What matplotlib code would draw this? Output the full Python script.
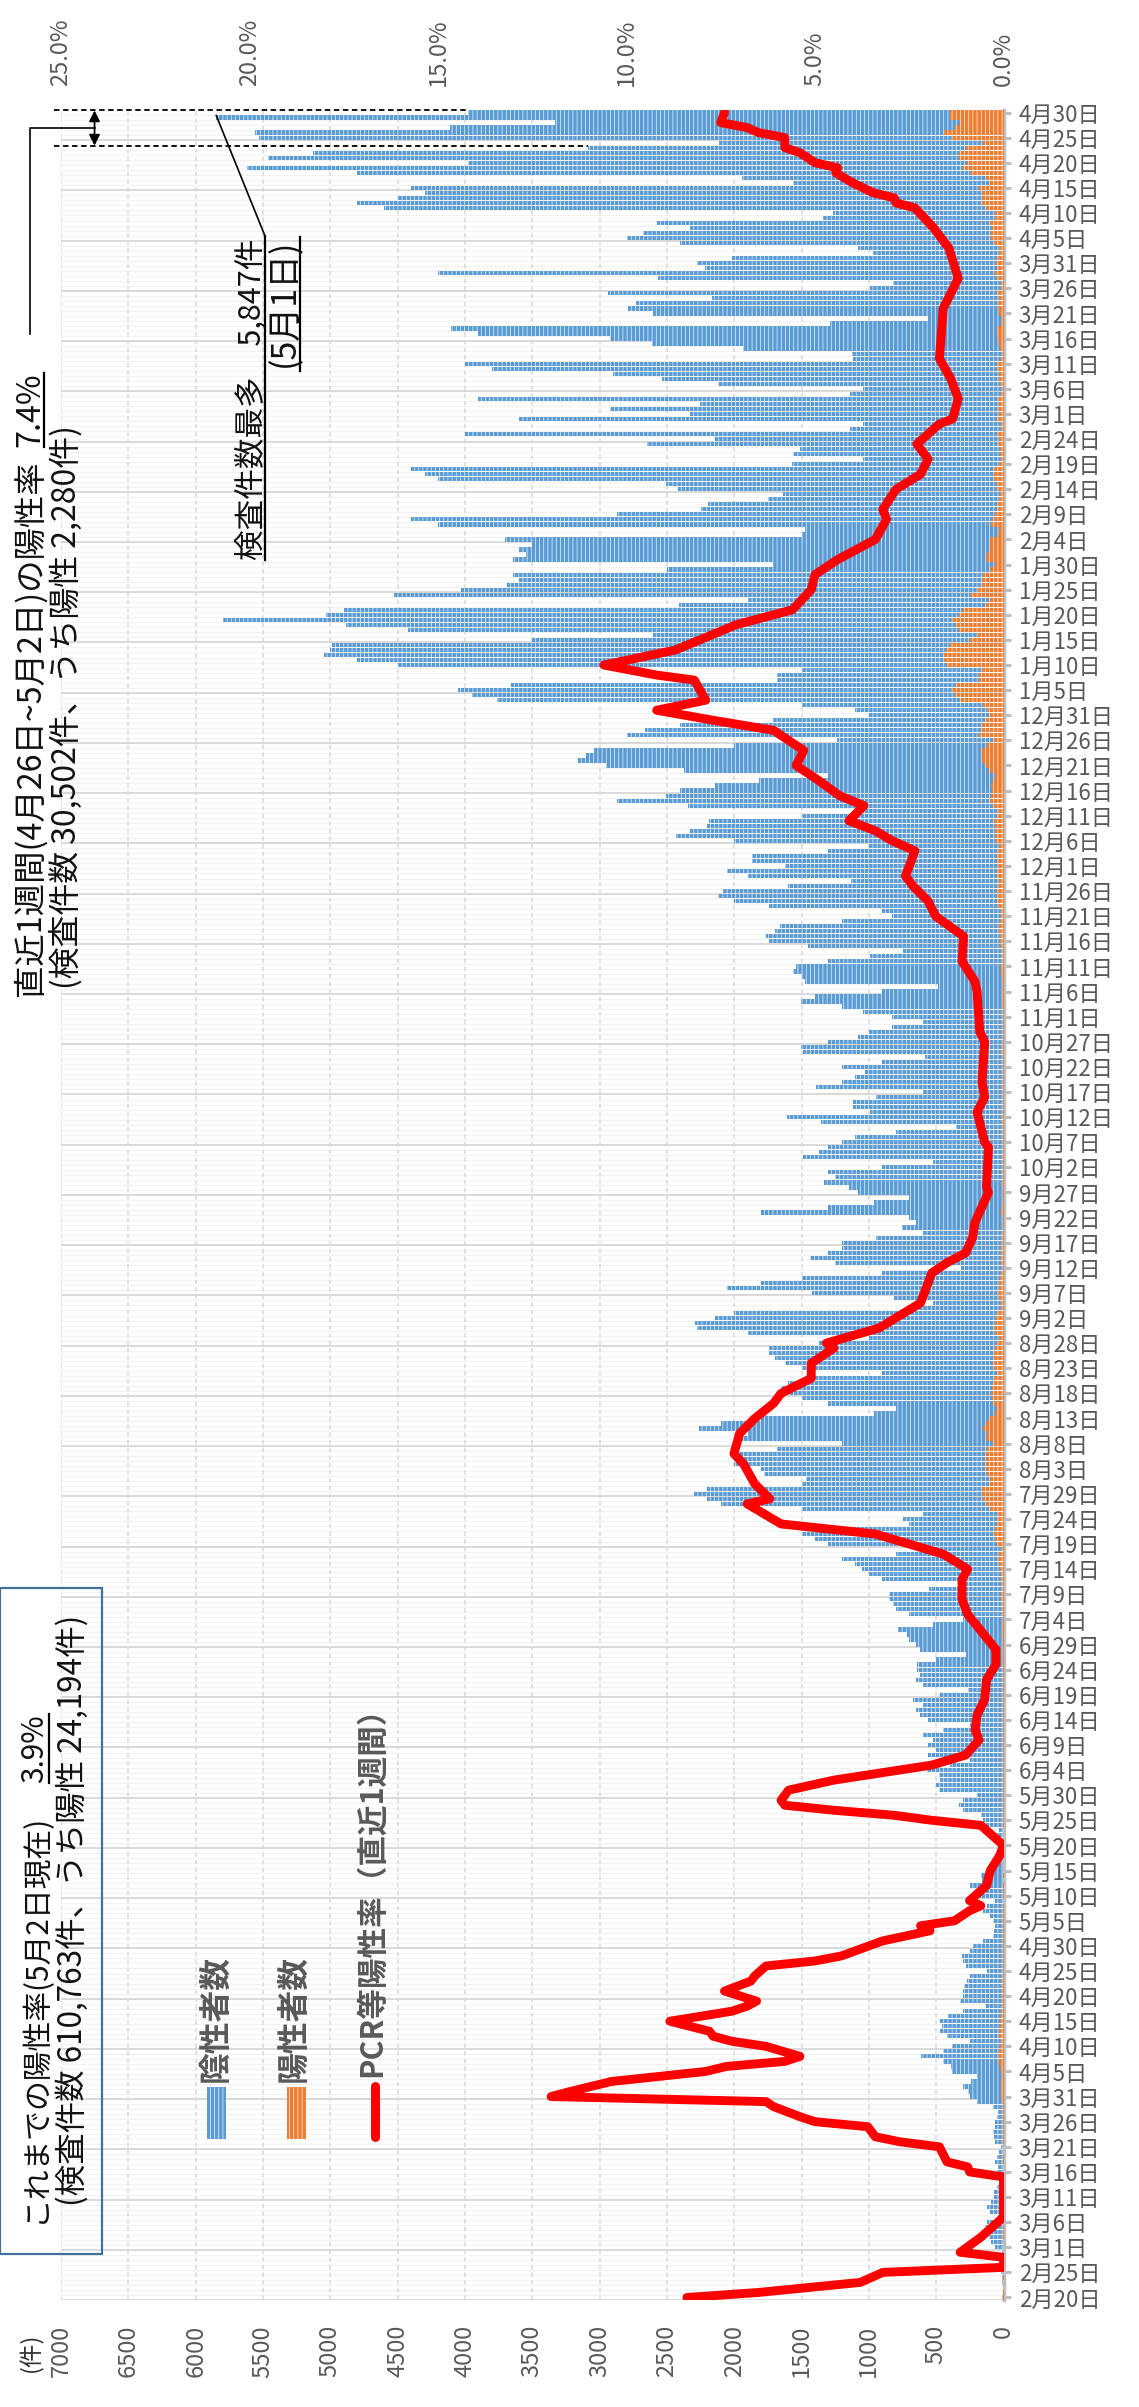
import numpy as np
import pandas as pd
import matplotlib
matplotlib.use("Agg")
import matplotlib.pyplot as plt
from matplotlib.patches import Rectangle
from matplotlib.lines import Line2D

plt.rcParams['font.family'] = ['Noto Sans CJK JP', 'DejaVu Sans']
plt.rcParams['hatch.linewidth'] = 0.45

# ---------------- data ----------------
start_date = "2020-02-20"
end_date = "2021-04-30"

# daily number of tests (blue bar length = negatives + positives), one row per week from 2020-02-20
tests_total = [
    8, 5, 3, 10, 12, 15, 20,
    25, 20, 10, 60, 90, 110, 150,
    140, 120, 40, 100, 120, 90, 70,
    70, 50, 20, 40, 50, 40, 60,
    50, 30, 20, 60, 70, 80, 60,
    60, 50, 40, 80, 200, 250, 260,
    300, 240, 200, 380, 390, 450, 610,
    450, 380, 250, 420, 470, 460, 470,
    410, 300, 130, 320, 300, 300, 290,
    270, 250, 120, 280, 300, 310, 250,
    230, 150, 80, 70, 60, 80, 100,
    150, 120, 60, 180, 200, 250, 160,
    170, 100, 40, 60, 50, 30, 40,
    40, 50, 30, 130, 150, 170, 300,
    330, 300, 200, 480, 500, 470, 480,
    570, 400, 250, 560, 500, 560, 520,
    600, 450, 250, 560, 620, 650, 600,
    670, 480, 260, 600, 650, 620, 640,
    640, 500, 280, 620, 650, 700, 720,
    780, 520, 300, 700, 800, 820, 850,
    850, 550, 320, 900, 1000, 1050, 1100,
    1200, 800, 500, 1300, 1400, 1500, 1350,
    700, 750, 600, 1500, 2100, 2200, 2300,
    2200, 1500, 1470, 1780, 1800, 2000, 2000,
    2000, 1680, 1200, 1950, 1900, 2260, 2100,
    1800, 960, 800, 1300, 1500, 1600, 1650,
    1600, 1400, 900, 1500, 1626, 1700, 1745,
    1745, 1370, 1000, 1900, 2275, 2291, 2140,
    2000, 700, 520, 810, 1420, 2050, 1800,
    1500, 900, 315, 1250, 1440, 1300, 1200,
    1200, 945, 600, 755, 650, 700, 1800,
    1300, 960, 700, 1080, 1150, 1335, 1250,
    1300, 900, 520, 1490, 1370, 1300, 1200,
    1100, 800, 350, 1355, 1610, 995, 1115,
    1115, 950, 600, 1390, 1200, 1100, 1030,
    1200, 900, 585, 1490, 1505, 1300, 1080,
    1000, 825, 600, 825, 1045, 1200, 1505,
    1400, 900, 485, 1475, 1500, 1560, 1540,
    1300, 995, 750, 1450, 1745, 1765, 1700,
    1660, 1200, 825, 900, 1745, 2000, 2120,
    2085, 1600, 1130, 1900, 2050, 1625, 1865,
    1865, 1300, 1000, 2000, 2430, 2325, 2200,
    2190, 1500, 1100, 2340, 2870, 2510, 2400,
    2140, 1815, 1300, 2375, 2955, 3160, 3100,
    3040, 2000, 1235, 2800, 2665, 2400, 1710,
    1000, 1100, 1500, 3760, 3945, 4050, 3655,
    1680, 1680, 1500, 4500, 4800, 5050, 5000,
    4985, 3500, 2600, 4420, 4880, 5800, 5035,
    4900, 2410, 1900, 4525, 4030, 3690, 3600,
    3640, 2500, 1710, 3640, 3550, 3600, 3500,
    3700, 1500, 1475, 4200, 4400, 2874, 2243,
    2193, 1748, 1636, 2416, 2503, 4200, 4300,
    4400, 1574, 1040, 1561, 1512, 2651, 2144,
    4000, 1140, 1040, 3600, 2330, 2924, 2255,
    3900, 1140, 1040, 2119, 2540, 2899, 3800,
    4000, 1115, 1127, 1933, 2614, 2924, 3900,
    4100, 1289, 558, 2602, 2788, 2726, 2168,
    2936, 992, 818, 2564, 4200, 2218, 2280,
    2019, 967, 1079, 2404, 2800, 2676, 2330,
    2577, 1339, 1265, 4600, 4800, 4500, 4300,
    4400, 1566, 1945, 4800, 5622, 3979, 5466,
    5131, 3085, 2114, 5532, 5562, 4113, 3328,
    5847, 3979,
]

# daily number of positives (orange)
positives = [
    1, 1, 0, 0, 1, 0, 0,
    0, 0, 0, 0, 0, 1, 1,
    1, 0, 0, 0, 0, 0, 0,
    0, 0, 0, 0, 0, 0, 1,
    1, 0, 0, 1, 2, 3, 2,
    3, 3, 2, 5, 10, 15, 18,
    20, 15, 12, 20, 25, 35, 40,
    35, 25, 15, 30, 30, 28, 25,
    20, 15, 8, 12, 10, 10, 8,
    8, 6, 3, 5, 5, 4, 3,
    3, 2, 1, 1, 1, 1, 1,
    1, 1, 0, 1, 1, 1, 0,
    1, 0, 0, 0, 0, 0, 0,
    0, 0, 0, 1, 2, 3, 5,
    6, 7, 5, 5, 6, 5, 4,
    6, 4, 2, 4, 3, 3, 2,
    3, 2, 1, 3, 3, 3, 3,
    4, 3, 1, 3, 3, 3, 4,
    4, 3, 2, 5, 6, 7, 8,
    10, 8, 5, 10, 12, 13, 15,
    16, 12, 8, 20, 22, 25, 30,
    40, 30, 20, 50, 60, 70, 60,
    50, 45, 40, 100, 130, 150, 160,
    160, 110, 100, 120, 130, 140, 130,
    140, 120, 80, 130, 120, 150, 130,
    110, 60, 50, 80, 85, 90, 85,
    80, 70, 45, 70, 75, 70, 70,
    60, 45, 30, 60, 70, 65, 55,
    50, 15, 15, 30, 40, 35, 30,
    25, 15, 5, 20, 20, 18, 15,
    12, 10, 8, 6, 5, 6, 15,
    10, 7, 5, 7, 7, 8, 7,
    8, 5, 3, 8, 7, 7, 6,
    6, 5, 2, 8, 9, 6, 6,
    6, 5, 3, 8, 7, 6, 6,
    7, 5, 3, 8, 8, 7, 6,
    6, 5, 4, 5, 6, 8, 10,
    10, 8, 5, 12, 14, 15, 15,
    12, 12, 10, 20, 25, 28, 30,
    30, 25, 18, 20, 40, 45, 50,
    50, 40, 30, 45, 50, 40, 45,
    50, 40, 30, 55, 65, 60, 60,
    70, 50, 40, 80, 100, 90, 85,
    90, 80, 60, 110, 140, 160, 160,
    170, 120, 80, 180, 170, 160, 140,
    110, 120, 150, 320, 360, 380, 350,
    180, 180, 160, 420, 440, 450, 430,
    400, 250, 200, 330, 350, 380, 330,
    300, 140, 110, 240, 200, 170, 160,
    150, 100, 60, 130, 120, 110, 100,
    100, 40, 35, 90, 80, 60, 50,
    45, 30, 25, 45, 50, 70, 70,
    70, 30, 20, 25, 25, 40, 35,
    50, 20, 15, 45, 35, 40, 30,
    40, 15, 12, 25, 30, 35, 45,
    45, 15, 12, 25, 35, 40, 45,
    50, 20, 10, 35, 40, 40, 35,
    45, 20, 15, 45, 60, 50, 55,
    50, 30, 30, 70, 90, 90, 85,
    100, 60, 60, 130, 160, 160, 160,
    180, 110, 130, 240, 300, 270, 330,
    330, 280, 150, 380, 440, 360, 320,
    400, 400,
]

# PCR positivity rate (last 7 days), read at these days since 2020-02-20
rate_day = [0, 1, 3, 5, 6, 8, 9, 12, 15, 16, 24, 25, 26, 27, 30, 31, 32, 34, 35, 36,
            38, 39, 40, 41, 43, 45, 46, 47, 48, 50, 51, 52, 53, 55, 57, 58, 59, 61, 63, 64,
            66, 67, 68, 71, 73, 74, 75, 77, 78, 79, 82, 85, 88, 90, 94, 95, 96, 97, 98, 99,
            101, 103, 106, 108, 111, 113, 116, 119, 123, 126, 129, 136, 139, 143, 145, 148, 152, 154, 158, 159,
            162, 166, 168, 172, 175, 178, 180, 183, 186, 189, 190, 193, 198, 204, 206, 208, 211, 214, 220, 221,
            229, 230, 236, 239, 242, 250, 252, 260, 262, 266, 271, 273, 275, 278, 281, 283, 288, 290, 292, 294,
            297, 299, 302, 305, 308, 312, 314, 316, 318, 322, 323, 325, 328, 333, 336, 340, 343, 346, 350, 354,
            356, 360, 363, 366, 369, 373, 374, 378, 382, 386, 391, 396, 402, 408, 412, 416, 417, 418, 419, 421,
            423, 424, 425, 427, 428, 430, 431, 432, 433, 435]
rate_pct = [8.4, 6.5, 3.8, 3.2, 0.0, 0.0, 1.15, 0.6, 0.15, 0.0, 0.0, 0.9, 0.95, 1.5, 1.7, 2.75, 3.4, 3.6, 5.0, 5.4,
            6.1, 6.3, 12.0, 11.5, 10.4, 7.9, 7.35, 5.8, 5.4, 6.3, 7.2, 7.7, 7.8, 8.85, 7.2, 6.8, 6.55, 7.4, 6.7, 6.6,
            6.3, 5.0, 4.3, 3.2, 1.95, 2.2, 1.3, 0.9, 0.6, 0.9, 0.45, 0.35, 0.1, 0.0, 0.6, 1.9, 2.9, 4.5, 5.8, 5.9,
            5.7, 4.5, 1.9, 1.0, 0.65, 0.75, 0.7, 0.5, 0.45, 0.2, 0.2, 0.95, 1.1, 1.1, 0.95, 1.6, 3.4, 5.9, 6.8, 6.2,
            6.6, 6.9, 7.15, 7.0, 6.6, 6.1, 5.9, 5.1, 5.1, 4.5, 4.7, 3.3, 2.2, 1.9, 1.5, 1.0, 0.82, 0.76, 0.4, 0.45,
            0.4, 0.5, 0.7, 0.5, 0.57, 0.5, 0.63, 0.7, 0.76, 1.1, 1.06, 1.43, 1.8, 2.0, 2.4, 2.6, 2.35, 2.95, 3.4, 4.1,
            3.7, 4.35, 4.9, 5.5, 5.3, 6.1, 7.7, 9.2, 7.9, 8.2, 9.2, 10.6, 8.7, 7.1, 5.6, 5.1, 5.0, 4.4, 3.4, 3.1,
            3.2, 2.85, 2.2, 2.0, 2.3, 1.7, 1.35, 1.2, 1.4, 1.7, 1.65, 1.6, 1.2, 1.45, 1.85, 2.35, 2.85, 2.9, 3.45, 4.0,
            4.45, 4.4, 5.0, 5.4, 5.8, 5.8, 6.5, 6.8, 7.5, 7.4]

count_ticks = [0, 500, 1000, 1500, 2000, 2500, 3000, 3500, 4000, 4500, 5000, 5500, 6000, 6500, 7000]
pct_ticks = [0, 5, 10, 15, 20, 25]

label_neg = "陰性者数"
label_pos = "陽性者数"
label_rate = "PCR等陽性率（直近1週間）"

# ---------------- figure ----------------
W, H = 1139, 2407
BLUE, ORANGE, GRAY = '#5B9BD5', '#ED7D31', '#595959'

dates = pd.date_range(start_date, end_date, freq='D')
n = len(dates)
y = np.arange(n)

fig = plt.figure(figsize=(W / 100, H / 100), dpi=100)
L, R, T, B = 61, 1003.5, 110, 2300
ax = fig.add_axes([L / W, 1 - B / H, (R - L) / W, (B - T) / H])

# grid
for d in range(n + 1):
    ax.axhline(d - 0.5, color='#EDEDED', lw=0.5, zorder=0)
for d in range(0, n + 1, 10):
    ax.axhline(d - 0.5, color='#D4D4D4', lw=1.2, zorder=0.5)
for c in count_ticks:
    ax.axvline(c, color='#D9D9D9', lw=1.1, ls=(0, (3, 2)), zorder=0.6)

ax.barh(y, tests_total, height=0.84, color=BLUE, edgecolor='white', linewidth=0,
        hatch='||||', zorder=2)
ax.barh(y, positives, height=0.84, color=ORANGE, edgecolor='white', linewidth=0,
        hatch='||||', zorder=3)

ax.set_xlim(7000, 0)
ax.set_ylim(-0.5, n - 0.5)

ax.set_xticks(count_ticks)
ax.set_xticklabels([str(c) for c in count_ticks], rotation=90, fontsize=17, color=GRAY)
ax.tick_params(axis='x', length=0, pad=18)

ax.yaxis.tick_right()
tick_idx = list(range(0, n, 5))
ax.set_yticks(tick_idx)
ax.set_yticklabels([f"{dates[i].month}月{dates[i].day}日" for i in tick_idx],
                   fontsize=16, color=GRAY)
ax.tick_params(axis='y', length=5, width=2.2, color='#BFBFBF', pad=6)
for s in ['left', 'top', 'bottom']:
    ax.spines[s].set_visible(False)
ax.spines['right'].set_color('#BFBFBF')
ax.spines['right'].set_linewidth(2.5)

ax2 = ax.twiny()
ax2.set_xlim(25, 0)
ax2.plot(rate_pct, rate_day, color='#FF0000', lw=6.4, solid_joinstyle='round',
         solid_capstyle='round', zorder=5)
ax2.set_xticks(pct_ticks)
ax2.set_xticklabels([f"{p:.1f}%" for p in pct_ticks], rotation=90, fontsize=17, color=GRAY)
ax2.tick_params(axis='x', length=0, pad=17)
for s in ax2.spines.values():
    s.set_visible(False)

# ---------------- annotations ----------------
renderer = fig.canvas.get_renderer()
PX = 100 / 72


def measure(s, fs, **kw):
    t = fig.text(0.5, 0.5, s, rotation=90, fontsize=fs, **kw)
    h = t.get_window_extent(renderer).height
    t.remove()
    return h


def draw_v(x, y0, s, fs, **kw):
    t = fig.text(x / W, 1 - y0 / H, s, rotation=90, ha='center', va='bottom', fontsize=fs, **kw)
    bb = t.get_window_extent(renderer)
    return H - bb.y1


def vline(x, ya, yb, **kw):
    fig.add_artist(Line2D([x / W, x / W], [1 - ya / H, 1 - yb / H], transform=fig.transFigure, **kw))


def fit_line(x, y0, y1, s, base=20, **kw):
    fs = base * (y0 - y1) / measure(s, base, **kw)
    return draw_v(x, y0, s, fs, **kw), fs


def underlined_line(x, y0, y1, part_a, part_b, gap_em, ul_dx, base=20, **kw):
    la = measure(part_a, base, **kw)
    lb = measure(part_b, base, **kw)
    fs = base * (y0 - y1) / (la + lb + gap_em * base * PX)
    ya = draw_v(x, y0, part_a, fs, **kw)
    yb0 = ya - gap_em * fs * PX
    yb = draw_v(x, yb0, part_b, fs, **kw)
    vline(x + ul_dx, yb0, yb, color='black', lw=1.6)


TXT = dict(color='#111111')

# box: cumulative positivity
fig.add_artist(Rectangle((0, 1 - 2254 / H), 102 / W, (2254 - 1588) / H, transform=fig.transFigure,
                         facecolor='none', edgecolor='#41719C', lw=1.6))
underlined_line(35, 2223, 1714, "これまでの陽性率(5月2日現在)", "3.9%", 1.0, 14, **TXT)
fit_line(72, 2206, 1615, "(検査件数 610,763件、うち陽性 24,194件)", **TXT)

# last week positivity
underlined_line(30, 996, 374, "直近1週間(4月26日~5月2日)の陽性率", "7.4%", 0.4, 14, **TXT)
fit_line(66, 989, 425, "(検査件数 30,502件、うち陽性 2,280件)", **TXT)

# max tests annotation
fit_line(251, 560, 239, "検査件数最多　5,847件", **TXT)
vline(265, 560, 236, color='black', lw=1.6)
fit_line(285, 367, 239, "(5月1日)", **TXT)
vline(300, 371, 237, color='black', lw=1.6)
bx, by = ax.transData.transform((tests_total[434], 434.41))
fig.add_artist(Line2D([265 / W, bx / W], [1 - 236 / H, by / H], transform=fig.transFigure,
                      color='black', lw=1.2))

# dashed markers and double arrow for last week
ax.plot([7050, tests_total[435]], [435.41, 435.41], color='black', lw=1.3, ls=(0, (3, 2)),
        clip_on=False, zorder=6)
ax.plot([7050, tests_total[428]], [428.41, 428.41], color='black', lw=1.3, ls=(0, (3, 2)),
        clip_on=False, zorder=6)
ax.annotate('', xy=(6751, 435.41), xytext=(6751, 428.41),
            arrowprops=dict(arrowstyle='<|-|>', color='black', lw=1.3, mutation_scale=16,
                            shrinkA=0, shrinkB=0), annotation_clip=False, zorder=6)
ax_mid = ax.transData.transform((6751, 431.9))
fig.add_artist(Line2D([ax_mid[0] / W, 30 / W, 30 / W],
                      [ax_mid[1] / H, ax_mid[1] / H, 1 - 334 / H],
                      transform=fig.transFigure, color='black', lw=1.2))

# legend (rotated)
LEG = dict(color=GRAY, fontweight='bold')
fig.add_artist(Rectangle((207 / W, 1 - 2139 / H), 19 / W, 52 / H, transform=fig.transFigure,
                         facecolor=BLUE, edgecolor='white', lw=0, hatch='||||'))
fit_line(215, 2082, 1955, label_neg, **LEG)
fig.add_artist(Rectangle((287 / W, 1 - 2139 / H), 19 / W, 52 / H, transform=fig.transFigure,
                         facecolor=ORANGE, edgecolor='white', lw=0, hatch='||||'))
fit_line(293, 2082, 1955, label_pos, **LEG)
vline(375, 2086, 2137, color='#FF0000', lw=6.5, solid_capstyle='round')
fit_line(372, 2077, 1692, label_rate, **LEG)

# unit label
fig.text(31 / W, 1 - 2352 / H, "(件)", rotation=90, ha='center', va='center', fontsize=17, color='#333333')

fig.savefig("out.png", dpi=100)
